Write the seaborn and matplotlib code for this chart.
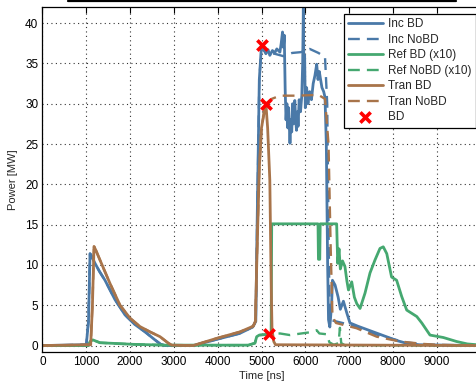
import numpy as np
import pandas as pd
import matplotlib
matplotlib.use("Agg")
import matplotlib.pyplot as plt
from matplotlib.lines import Line2D
import seaborn as sns

# ---- measured power traces (time in ns, power in MW) ----
inc_bd_t = [0, 1000, 1050, 1085, 1110, 1199, 1300, 1427, 1655, 1884, 2112, 2340, 2568, 2700, 2800,
            3450, 4000, 4500, 4800, 4870, 4900, 4950, 5000, 5050, 5100, 5150, 5190, 5250, 5300,
            5350, 5420, 5450, 5480, 5500, 5520, 5540, 5560, 5580, 5600, 5620, 5650, 5670, 5690,
            5710, 5730, 5760, 5780, 5800, 5820, 5835, 5860, 5890, 5920, 5940, 5955, 5970, 5985,
            6000, 6030, 6060, 6100, 6140, 6180, 6220, 6260, 6290, 6320, 6340, 6380, 6420, 6450,
            6480, 6510, 6530, 6560, 6600, 6620, 6680, 6750, 6800, 6870, 6950, 7020, 7200, 7500,
            7800, 8100, 8300, 8600, 9920]
inc_bd_p = [0, 0.1, 3, 11.4, 11.2, 10.2, 9.2, 8.1, 5.7, 3.8, 2.6, 1.7, 0.7, 0.15, 0,
            0, 0.8, 1.5, 2.3, 3, 15, 33, 37.3, 36.8, 36.2, 36.7, 36.0, 36.6, 36.3,
            36.8, 36.4, 37.5, 38.9, 37, 38.5, 31.9, 28, 30, 27, 29.5, 25.1, 28, 26.5,
            30, 27.5, 30.4, 28, 26.7, 29, 27.2, 30.5, 29, 31, 35, 41.8, 33, 36,
            29.5, 32, 30, 31.5, 30.5, 32.5, 33.5, 34.9, 33, 34, 33.3, 32, 31.5, 30.8,
            25, 10, 3.2, 2.3, 5, 8.1, 7.5, 6, 4.5, 5.5, 4, 2.8, 2.4, 1.8,
            1.2, 0.6, 0.3, 0.1, 0]

inc_nobd_t = [0, 1000, 1050, 1085, 1110, 1199, 1300, 1427, 1655, 1884, 2112, 2340, 2568, 2700,
              2800, 3450, 4000, 4500, 4800, 4870, 4900, 4950, 5000, 5100, 5300, 5500, 5700, 5900,
              6100, 6300, 6450, 6500, 6540, 6560, 6700, 7000, 7300, 7600, 8000, 8300, 8700, 9000,
              9920]
inc_nobd_p = [0, 0.1, 3, 11.4, 11.2, 10.2, 9.2, 8.1, 5.7, 3.8, 2.6, 1.7, 0.7, 0.15,
              0, 0, 0.8, 1.5, 2.3, 3, 15, 33, 37.0, 36.3, 36.2, 35.9, 36.3, 36.4,
              36.8, 36.3, 35.8, 30, 10, 3.2, 3.0, 2.6, 2.1, 1.4, 0.8, 0.4, 0.15, 0.05,
              0]

ref_bd_t = [0, 1050, 1085, 1150, 1313, 2075, 2800, 4700, 4850, 4890, 4950, 5180, 5220, 5233,
            6290, 6300, 6330, 6340, 6716, 6740, 6770, 6800, 6850, 6905, 6950, 6985, 7060, 7120,
            7175, 7250, 7363, 7477, 7590, 7705, 7780, 7860, 7970, 8085, 8200, 8315, 8545, 8660,
            8847, 9150, 9455, 9700, 9920]
ref_bd_p = [0, 0, 0.5, 0.7, 0.35, 0.15, 0.05, 0.05, 0.3, 1.1, 1.3, 1.4, 1.5, 15.1,
            15.1, 10.7, 10.7, 15.1, 15.1, 10.2, 12, 9.5, 10.5, 9.8, 8, 6.9, 7.9, 6,
            5.2, 4.6, 6.5, 9.0, 10.6, 12.05, 12.25, 11.4, 8.5, 8.1, 6.1, 4.4, 3.6, 2.8,
            1.3, 1.0, 0.5, 0.2, 0.1]

ref_nobd_t = [0, 1050, 1085, 1150, 1313, 2075, 2800, 4700, 4850, 4890, 4950, 5180, 5420, 5650,
              6110, 6260, 6320, 6490, 6550, 6650, 6760, 6790, 6820, 6900, 9920]
ref_nobd_p = [0, 0, 0.5, 0.7, 0.35, 0.15, 0.05, 0.05, 0.3, 1.1, 1.3, 1.4, 1.5, 1.3,
              1.65, 1.9, 1.5, 1.4, 0.4, 0.1, 0.3, 2.2, 0.3, 0.05, 0]

tran_bd_t = [0, 1100, 1140, 1176, 1220, 1313, 1541, 1770, 1998, 2226, 2454, 2683, 2872, 2950,
             3440, 3980, 4510, 4810, 4860, 4900, 4950, 5000, 5080, 5100, 5140, 5190, 5220, 5240,
             5280, 5320, 9920]
tran_bd_p = [0, 0.1, 5, 12.3, 11.8, 10.6, 7.7, 5.0, 3.4, 2.35, 1.7, 1.1, 0.3, 0.05,
             0.0, 0.9, 1.7, 2.4, 3.0, 12, 22, 27, 29.6, 30.0, 27, 20.5, 8, 2,
             0.5, 0.1, 0]

tran_nobd_t = [0, 1100, 1140, 1176, 1220, 1313, 1541, 1770, 1998, 2226, 2454, 2683, 2872, 2950,
               3440, 3980, 4510, 4810, 4860, 4900, 4950, 5000, 5080, 5100, 5233, 5420, 5800,
               6300, 6450, 6530, 6580, 6620, 6700, 7170, 7630, 8160, 8700, 9000, 9920]
tran_nobd_p = [0, 0.1, 5, 12.3, 11.8, 10.6, 7.7, 5.0, 3.4, 2.35, 1.7, 1.1, 0.3, 0.05,
               0.0, 0.9, 1.7, 2.4, 3.0, 12, 22, 27, 29.6, 30.0, 30.6, 31.0, 31.0,
               31.1, 30.6, 25, 12, 3.6, 2.8, 2.15, 1.1, 0.5, 0.2, 0.1, 0]

# breakdown instants
bd_t = [5000, 5100, 5180]
bd_p = [37.3, 30.0, 1.4]

blue = "#4a79a8"
green = "#45a870"
brown = "#a8744a"

series = [
    ("Inc BD", inc_bd_t, inc_bd_p, blue, "-", 2.0),
    ("Inc NoBD", inc_nobd_t, inc_nobd_p, blue, "--", 1.7),
    ("Ref BD (x10)", ref_bd_t, ref_bd_p, green, "-", 2.0),
    ("Ref NoBD (x10)", ref_nobd_t, ref_nobd_p, green, "--", 1.7),
    ("Tran BD", tran_bd_t, tran_bd_p, brown, "-", 2.0),
    ("Tran NoBD", tran_nobd_t, tran_nobd_p, brown, "--", 1.7),
]

sns.set_theme(style="white")
plt.rcParams["font.family"] = ["Liberation Sans", "DejaVu Sans"]

fig = plt.figure(figsize=(4.77, 3.85), dpi=100)
ax = fig.add_axes([42.5 / 477, 33 / 385, 438 / 477, 345 / 385])

for name, t, p, color, ls, lw in series:
    df = pd.DataFrame({"t": t, "p": p})
    sns.lineplot(data=df, x="t", y="p", ax=ax, color=color, linestyle=ls,
                 linewidth=lw, estimator=None, sort=False, label=name)
    if ls == "--":
        ax.lines[-1].set_dashes((5, 3))

bd_df = pd.DataFrame({"t": bd_t, "p": bd_p})
sns.scatterplot(data=bd_df, x="t", y="p", ax=ax, marker="x", s=55, color="#ff0000",
                linewidth=2.6, zorder=5, label="BD")

ax.set_xlim(0, 10000)
ax.set_ylim(-0.8, 42)
ax.set_xticks(np.arange(0, 10000, 1000))
ax.set_yticks(np.arange(0, 41, 5))
ax.grid(True, color="#333333", linestyle=(0, (1, 3)), linewidth=0.8)
ax.tick_params(direction="in", length=4, width=0.8, top=True, right=False,
               labelsize=8.5, colors="black", pad=3)
for s in ax.spines.values():
    s.set_color("black")
    s.set_linewidth(0.9)
ax.set_xlabel("Time [ns]", fontsize=8, labelpad=2)
ax.set_ylabel("Power [MW]", fontsize=8, labelpad=5)

handles, labels = ax.get_legend_handles_labels()
leg = ax.legend(handles, labels, loc="upper right",
                bbox_to_anchor=(476 / 477, 1 - 14 / 385), bbox_transform=fig.transFigure,
                fontsize=8.5, frameon=True, fancybox=False, framealpha=1,
                edgecolor="black", handlelength=3.0, labelspacing=0.3,
                borderpad=0.35, handletextpad=0.45, borderaxespad=0)
leg.get_frame().set_linewidth(0.9)

fig.add_artist(Line2D([68 / 477, 456 / 477], [1 - 1.2 / 385] * 2,
                      color="black", linewidth=1.6, transform=fig.transFigure))

fig.savefig("out.png", dpi=100)
